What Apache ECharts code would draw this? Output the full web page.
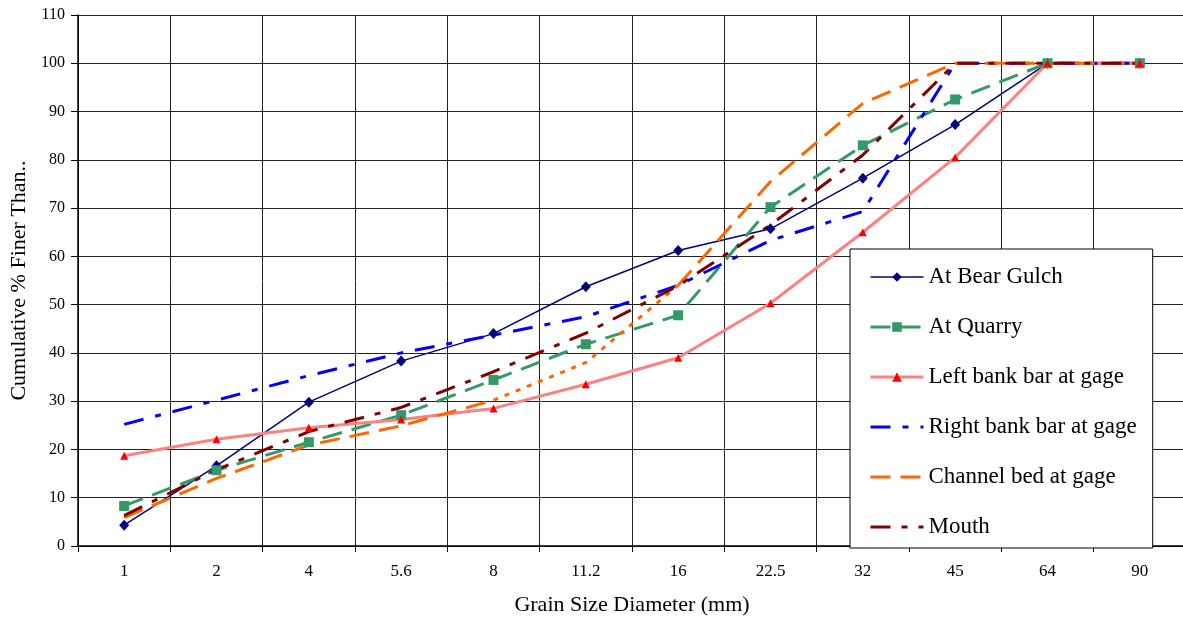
<!DOCTYPE html>
<html><head><meta charset="utf-8">
<script src="https://cdn.jsdelivr.net/npm/echarts@6/dist/echarts.min.js"></script>
<style>html,body{margin:0;padding:0;background:#fff;overflow:hidden;width:1183px;height:621px}#c{width:1186px;height:621px}</style>
</head><body><div id="c"></div>
<script>
const categories = ['1','2','4','5.6','8','11.2','16','22.5','32','45','64','90'];
const yTicks = [0,10,20,30,40,50,60,70,80,90,100,110];
const bearGulch = [4.3,16.6,29.8,38.3,44.0,53.7,61.2,65.7,76.2,87.3,100,100];
const quarry = [8.3,15.7,21.5,27.1,34.4,41.8,47.8,70.2,83.0,92.5,100,100];
const leftBank = [18.7,22.1,24.5,26.2,28.5,33.5,39.0,50.3,65.0,80.5,100,100];
const rightBank = [25.2,30.2,35.3,40.0,43.7,47.5,54.0,63.3,69.3,100,100,100];
const channelBed = [5.9,14.0,20.9,24.9,30.2,38.0,54.0,75.5,91.7,100,100,100];
const mouth = [6.3,15.8,23.7,28.7,36.1,44.1,53.9,66.5,81.0,100,100,100];

// the reference draws the Channel bed segment 8 -> 16 with a short dash
const dotFrom = 4, dotTo = 6;
const channelMain = channelBed.map((v,i)=> (i>dotFrom && i<dotTo) ? null : v);
const channelDot = channelBed.map((v,i)=> (i>=dotFrom && i<=dotTo) ? v : null);

const FONT = 'Liberation Serif';
const names = ['At Bear Gulch','At Quarry','Left bank bar at gage','Right bank bar at gage','Channel bed at gage','Mouth'];
const styles = {
  'At Bear Gulch': {color:'#000080', width:1.5, type:'solid', symbol:'diamond', size:[10,11], fill:'#000080'},
  'At Quarry': {color:'#339966', width:3, type:[20,10], symbol:'rect', size:10, fill:'#339966'},
  'Left bank bar at gage': {color:'#FF8080', width:3, type:'solid', symbol:'triangle', size:8, fill:'#FF0000'},
  'Right bank bar at gage': {color:'#0000FF', width:3, type:[20,12,6,12], symbol:'none'},
  'Channel bed at gage': {color:'#FF6600', width:3, type:[20,10], symbol:'none'},
  'Mouth': {color:'#800000', width:3, type:[20,11,6,11], symbol:'none'}
};
const dataMap = {
  'At Bear Gulch': bearGulch, 'At Quarry': quarry, 'Left bank bar at gage': leftBank,
  'Right bank bar at gage': rightBank, 'Channel bed at gage': channelMain, 'Mouth': mouth
};

const series = [];
names.forEach(n=>{
  const s = styles[n];
  const hasSym = s.symbol !== 'none';
  series.push({
    name:n, type:'line', data:dataMap[n], connectNulls:false,
    symbol: hasSym ? s.symbol : 'circle', showSymbol: hasSym, symbolSize: s.size || 0,
    itemStyle:{color: s.fill || s.color},
    lineStyle:{color:s.color, width:s.width, type:s.type},
    animation:false, silent:true
  });
  if (n === 'Channel bed at gage') {
    series.push({
      name:n, type:'line', data:channelDot, connectNulls:false,
      symbol:'circle', showSymbol:false,
      itemStyle:{color:s.color},
      lineStyle:{color:s.color, width:s.width, type:[5,7]},
      animation:false, silent:true
    });
  }
});

const legendData = names.map(n=>{
  const s = styles[n];
  return {
    name:n,
    itemStyle:{color:s.fill || s.color, opacity: s.symbol==='none'?0:1},
    lineStyle:{color:s.color, width:s.width, type:s.type}
  };
});

const chart = echarts.init(document.getElementById('c'));
chart.setOption({
  animation:false,
  backgroundColor:'#fff',
  grid:{left:78, right:0, top:15, bottom:75, containLabel:false},
  xAxis:{
    type:'category', data:categories, boundaryGap:true,
    name:'Grain Size Diameter (mm)', nameLocation:'middle', nameGap:48,
    nameTextStyle:{fontFamily:FONT, fontSize:22, color:'#000'},
    axisLine:{lineStyle:{color:'#000', width:1.5}},
    axisTick:{show:true, alignWithLabel:false, length:6, lineStyle:{color:'#000'}},
    axisLabel:{fontFamily:FONT, fontSize:17, color:'#000', margin:17, interval:0},
    splitLine:{show:true, interval:0, lineStyle:{color:'#222', width:1}}
  },
  yAxis:{
    type:'value', min:yTicks[0], max:yTicks[yTicks.length-1], interval:10,
    name:'Cumulative % Finer Than..', nameLocation:'middle', nameGap:48,
    nameTextStyle:{fontFamily:FONT, fontSize:22, color:'#000'},
    axisLine:{show:true, lineStyle:{color:'#000', width:1.5}},
    axisTick:{show:true, length:7, lineStyle:{color:'#000'}},
    axisLabel:{fontFamily:FONT, fontSize:16, color:'#000', margin:13},
    splitLine:{show:true, lineStyle:{color:'#222', width:1}}
  },
  legend:{
    orient:'vertical', left:850, top:249,
    data:legendData,
    itemWidth:53, itemHeight:12, itemGap:26,
    padding:[16,16,9,19],
    backgroundColor:'#fff', borderColor:'#000', borderWidth:1, borderRadius:0,
    selectedMode:false,
    textStyle:{fontFamily:FONT, fontSize:23, color:'#000', lineHeight:24}
  },
  series:series
});
</script></body></html>
